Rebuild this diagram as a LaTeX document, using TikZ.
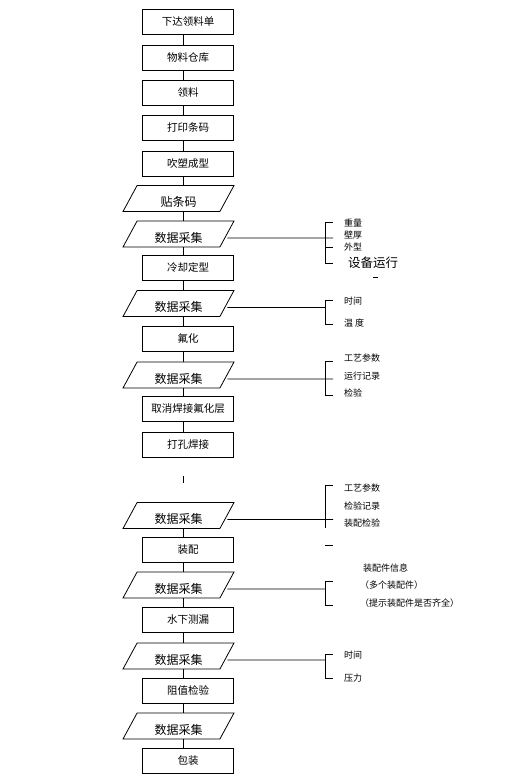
\documentclass[tikz,border=0pt]{standalone}
\usepackage{fontspec}
\setmainfont{Noto Sans CJK SC}
\usetikzlibrary{shapes.geometric}
\tikzset{
  procbox/.style={draw=black, line width=0.8pt, minimum width=91pt, minimum height=25pt, inner sep=0pt, font=\fontsize{10.5}{12}\selectfont},
  databox/.style={draw=black, line width=0.8pt, trapezium, trapezium left angle=50, trapezium right angle=130, trapezium stretches body, minimum width=111pt, minimum height=26pt, inner sep=0pt, text height=16.8pt, text depth=0pt, font=\fontsize{12}{14}\selectfont},
  item/.style={anchor=west, inner sep=0pt, font=\fontsize{9}{10}\selectfont},
  link/.style={draw=black, line width=0.8pt}
}

\begin{document}
\begin{tikzpicture}[x=1pt, y=1pt]
  \useasboundingbox (0,0) rectangle (528,-774);
  \coordinate (sp) at (183,0);

  % main flow
  \node[procbox] (xdll) at (188,-21.5) {下达领料单};
  \node[procbox] (wlck) at (188,-57.5) {物料仓库};
  \node[procbox] (ll) at (188,-93) {领料};
  \node[procbox] (dytm) at (188,-127.5) {打印条码};
  \node[procbox] (csx) at (188,-163.5) {吹塑成型};
  \node[databox] (ttm) at (178.5,-198.5) {贴条码};
  \node[databox] (sj1) at (178.5,-234) {数据采集};
  \node[procbox] (lqdx) at (188,-267.5) {冷却定型};
  \node[databox] (sj2) at (178.5,-303.5) {数据采集};
  \node[procbox] (fh) at (188,-338.5) {氟化};
  \node[databox] (sj3) at (178.5,-375) {数据采集};
  \node[procbox] (qxfh) at (188,-408.5) {取消焊接氟化层};
  \node[procbox] (dkhj) at (188,-444.5) {打孔焊接};
  \node[databox] (sj4) at (178.5,-515.5) {数据采集};
  \node[procbox] (zp) at (188,-549.5) {装配};
  \node[databox] (sj5) at (178.5,-585) {数据采集};
  \node[procbox] (sxcl) at (188,-620) {水下测漏};
  \node[databox] (sj6) at (178.5,-656) {数据采集};
  \node[procbox] (zzjy) at (188,-690.5) {阻值检验};
  \node[databox] (sj7) at (178.5,-726) {数据采集};
  \node[procbox] (bz) at (188,-760.5) {包装};

  \draw[link] (xdll.south -| sp) -- (wlck.north -| sp);
  \draw[link] (wlck.south -| sp) -- (ll.north -| sp);
  \draw[link] (ll.south -| sp) -- (dytm.north -| sp);
  \draw[link] (dytm.south -| sp) -- (csx.north -| sp);
  \draw[link] (csx.south -| sp) -- (ttm.north -| sp);
  \draw[link] (ttm.south -| sp) -- (sj1.north -| sp);
  \draw[link] (sj1.south -| sp) -- (lqdx.north -| sp);
  \draw[link] (lqdx.south -| sp) -- (sj2.north -| sp);
  \draw[link] (sj2.south -| sp) -- (fh.north -| sp);
  \draw[link] (fh.south -| sp) -- (sj3.north -| sp);
  \draw[link] (sj3.south -| sp) -- (qxfh.north -| sp);
  \draw[link] (qxfh.south -| sp) -- (dkhj.north -| sp);
  \draw[link] (sj4.south -| sp) -- (zp.north -| sp);
  \draw[link] (zp.south -| sp) -- (sj5.north -| sp);
  \draw[link] (sj5.south -| sp) -- (sxcl.north -| sp);
  \draw[link] (sxcl.south -| sp) -- (sj6.north -| sp);
  \draw[link] (sj6.south -| sp) -- (zzjy.north -| sp);
  \draw[link] (zzjy.south -| sp) -- (sj7.north -| sp);
  \draw[link] (sj7.south -| sp) -- (bz.north -| sp);
  \coordinate (brk) at (183,-476);
  \draw[link] (brk) -- ++(0,-7);

  % side data 1
  \coordinate (k1) at (325,-238);
  \draw[link] ([yshift=-4pt]sj1.east) -- (k1) -- ++(8,0);
  \draw[link] (333,-222) -| (325,-263) -- (333,-263);
  \draw[link] (325,-247) -- (333,-247);
  \node[item] (zl) at (344,-223) {重量};
  \node[item] (bh) at (344,-235) {壁厚};
  \node[item] (wx) at (344,-247) {外型};
  \node[item, font=\fontsize{12.5}{14}\selectfont] (sbyx) at (348,-263) {设备运行};
  \draw[link] (373,-277) -- (378,-277);

  % side data 2
  \coordinate (k2) at (325,-307.5);
  \draw[link] ([yshift=-4pt]sj2.east) -- (k2);
  \draw[link] (333,-300) -| (325,-324) -- (333,-324);
  \node[item] (sj) at (344,-301.5) {时间};
  \node[item] (wd) at (344,-323) {温 度};

  % side data 3
  \coordinate (k3) at (325,-379);
  \draw[link] ([yshift=-4pt]sj3.east) -- (k3) -- ++(8,0);
  \draw[link] (333,-361) -| (325,-395) -- (333,-395);
  \node[item] (gy1) at (344,-358.5) {工艺参数};
  \node[item] (yxjl) at (344,-376.5) {运行记录};
  \node[item] (jy) at (344,-393.5) {检验};

  % side data 4
  \coordinate (k4) at (325,-519.5);
  \draw[link] ([yshift=-4pt]sj4.east) -- (k4) -- ++(8,0);
  \draw[link] (333,-485) -| (325,-527.5);
  \draw[link] (325,-545.5) -- (333,-545.5);
  \node[item] (gy2) at (344,-488) {工艺参数};
  \node[item] (jyjl) at (344,-506.5) {检验记录};
  \node[item] (zpjy) at (344,-523) {装配检验};

  % side data 5
  \coordinate (k5) at (325,-589);
  \draw[link] ([yshift=-4pt]sj5.east) -- (k5);
  \draw[link] (333,-581) -| (325,-605) -- (333,-605);
  \node[item] (zpxx) at (363,-568) {装配件信息};
  \node[item] (dgzp) at (360,-585) {（多个装配件）};
  \node[item] (tsqq) at (360,-603.5) {（提示装配件是否齐全）};

  % side data 6
  \coordinate (k6) at (325,-660);
  \draw[link] ([yshift=-4pt]sj6.east) -- (k6);
  \draw[link] (333,-654) -| (325,-678) -- (333,-678);
  \node[item] (sj6a) at (344,-655) {时间};
  \node[item] (yl) at (344,-678) {压力};
\end{tikzpicture}
\end{document}
